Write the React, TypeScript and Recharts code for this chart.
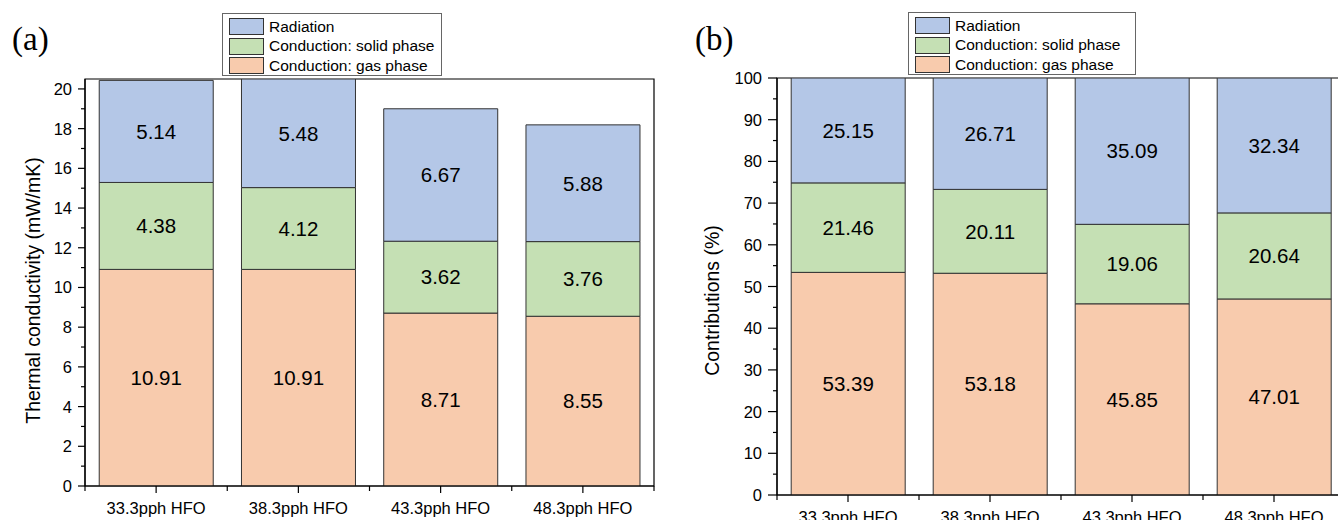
import React from 'react';
import { BarChart, Bar, XAxis, YAxis, LabelList, ReferenceArea } from 'recharts';

// samples
const categories = ['33.3pph HFO', '38.3pph HFO', '43.3pph HFO', '48.3pph HFO'];

// (a) thermal conductivity, mW/mK
const gasK = [10.91, 10.91, 8.71, 8.55];
const solidK = [4.38, 4.12, 3.62, 3.76];
const radK = [5.14, 5.48, 6.67, 5.88];

// (b) contributions, %
const gasPct = [53.39, 53.18, 45.85, 47.01];
const solidPct = [21.46, 20.11, 19.06, 20.64];
const radPct = [25.15, 26.71, 35.09, 32.34];

const kTicks = [0, 1, 2, 3, 4, 5, 6, 7, 8, 9, 10, 11, 12, 13, 14, 15, 16, 17, 18, 19, 20];
const pctTicks = [0, 5, 10, 15, 20, 25, 30, 35, 40, 45, 50, 55, 60, 65, 70, 75, 80, 85, 90, 95, 100];

const series = [
  { key: 'gas', name: 'Conduction: gas phase', color: '#F8CBAD' },
  { key: 'solid', name: 'Conduction: solid phase', color: '#C5E0B4' },
  { key: 'rad', name: 'Radiation', color: '#B4C7E7' },
];

const dataK = categories.map((c, i) => ({ name: c, gas: gasK[i], solid: solidK[i], rad: radK[i] }));
const dataPct = categories.map((c, i) => ({ name: c, gas: gasPct[i], solid: solidPct[i], rad: radPct[i] }));

const font = '"Liberation Sans", Arial, sans-serif';

const makeYTick = (majorEvery: number, major: number, minor: number, gap: number) => (props: any) => {
  const { x, y, payload } = props;
  const v = payload.value;
  const isMajor = Math.abs(v % majorEvery) < 1e-6;
  return (
    <g>
      <line x1={x} x2={x - (isMajor ? major : minor)} y1={y} y2={y} stroke="#000" strokeWidth={1.2} />
      {isMajor && (
        <text x={x - gap} y={y} textAnchor="end" dominantBaseline="central" fontSize={16.5} fill="#000" fontFamily={font}>
          {v}
        </text>
      )}
    </g>
  );
};

const makeXTick = (band: number) => (props: any) => {
  const { x, y, payload, index } = props;
  return (
    <g>
      <line x1={x} x2={x} y1={y} y2={y + 7} stroke="#000" strokeWidth={1.2} />
      <line x1={x - band / 2} x2={x - band / 2} y1={y} y2={y + 5} stroke="#000" strokeWidth={1.2} />
      {index === categories.length - 1 && (
        <line x1={x + band / 2} x2={x + band / 2} y1={y} y2={y + 5} stroke="#000" strokeWidth={1.2} />
      )}
      <text x={x} y={y + 22} textAnchor="middle" dominantBaseline="central" fontSize={16.5} fill="#000" fontFamily={font}>
        {payload.value}
      </text>
    </g>
  );
};

const makeTitle = (text: string, dx: number, dy: number) => (props: any) => {
  const vb = props.viewBox;
  const cx = vb.x + vb.width / 2 + dx;
  const cy = vb.y + vb.height / 2 + dy;
  return (
    <text x={cx} y={cy} transform={`rotate(-90 ${cx} ${cy})`} textAnchor="middle" dominantBaseline="central"
      fontSize={19.5} fill="#000" fontFamily={font}>
      {text}
    </text>
  );
};

function LegendBox({ left, top, width }: { left: number; top: number; width: number }) {
  return (
    <div
      style={{
        position: 'absolute', left, top, width, height: 63, border: '1px solid #666', background: '#fff',
        padding: '3px 6px', boxSizing: 'border-box', fontFamily: font, fontSize: 15.5, color: '#000',
      }}
    >
      {[...series].reverse().map((s) => (
        <div key={s.key} style={{ display: 'flex', alignItems: 'center', height: 19.5, whiteSpace: 'nowrap' }}>
          <span style={{ width: 33, height: 15, background: s.color, border: '1px solid #333', marginRight: 5, flex: 'none' }} />
          {s.name}
        </div>
      ))}
    </div>
  );
}

function Stacked({ data, max, ticks, majorEvery, width, yWidth, top, right, xHeight, title, majorLen }: any) {
  const plotW = width - yWidth - right;
  const band = plotW / categories.length;
  return (
    <BarChart width={width} height={520} data={data} margin={{ top, right, bottom: 0, left: 0 }} barCategoryGap="10%">
      <XAxis dataKey="name" height={xHeight} tickSize={0} tickMargin={0} tickLine={false} interval={0}
        axisLine={{ stroke: '#000', strokeWidth: 1.2 }} tick={makeXTick(band)} />
      <YAxis width={yWidth} domain={[0, max]} allowDataOverflow ticks={ticks} interval={0} tickSize={0} tickMargin={0}
        tickLine={false} axisLine={{ stroke: '#000', strokeWidth: 1.2 }} tick={makeYTick(majorEvery, majorLen, 4, majorLen + 6)}
        label={{ content: makeTitle(title.text, title.dx, title.dy) }} />
      {series.map((s) => (
        <Bar key={s.key} dataKey={s.key} name={s.name} stackId="a" fill={s.color} stroke="#333" strokeWidth={1} isAnimationActive={false}>
          <LabelList dataKey={s.key} position="center" fill="#000" fontSize={20.5} fontFamily={font}
            formatter={(v: any) => Number(v).toFixed(2)} />
        </Bar>
      ))}
      <ReferenceArea y1={0} y2={max} fill="none" stroke="#000" strokeWidth={1.2} ifOverflow="visible" />
    </BarChart>
  );
}

export default function App() {
  return (
    <div style={{ position: 'absolute', left: 0, top: 0, width: 1338, height: 520, overflow: 'hidden', background: '#fff' }}>
      <div style={{ position: 'absolute', left: 0, top: 0 }}>
        <Stacked data={dataK} max={20.5} ticks={kTicks} majorEvery={2} width={670} yWidth={85} top={79} right={16}
          xHeight={34} majorLen={7} title={{ text: 'Thermal conductivity (mW/mK)', dx: -9.5, dy: 8 }} />
      </div>
      <div style={{ position: 'absolute', left: 680, top: 0 }}>
        <Stacked data={dataPct} max={100} ticks={pctTicks} majorEvery={10} width={680} yWidth={97} top={78} right={15}
          xHeight={25} majorLen={9} title={{ text: 'Contributions (%)', dx: -17, dy: 14 }} />
      </div>
      <div style={{ position: 'absolute', left: 12, top: 23, fontFamily: '"Liberation Serif", "Times New Roman", serif', fontSize: 33, lineHeight: 1 }}>(a)</div>
      <div style={{ position: 'absolute', left: 695, top: 23, fontFamily: '"Liberation Serif", "Times New Roman", serif', fontSize: 33, lineHeight: 1 }}>(b)</div>
      <LegendBox left={222} top={13} width={220} />
      <LegendBox left={908} top={12} width={228} />
    </div>
  );
}
